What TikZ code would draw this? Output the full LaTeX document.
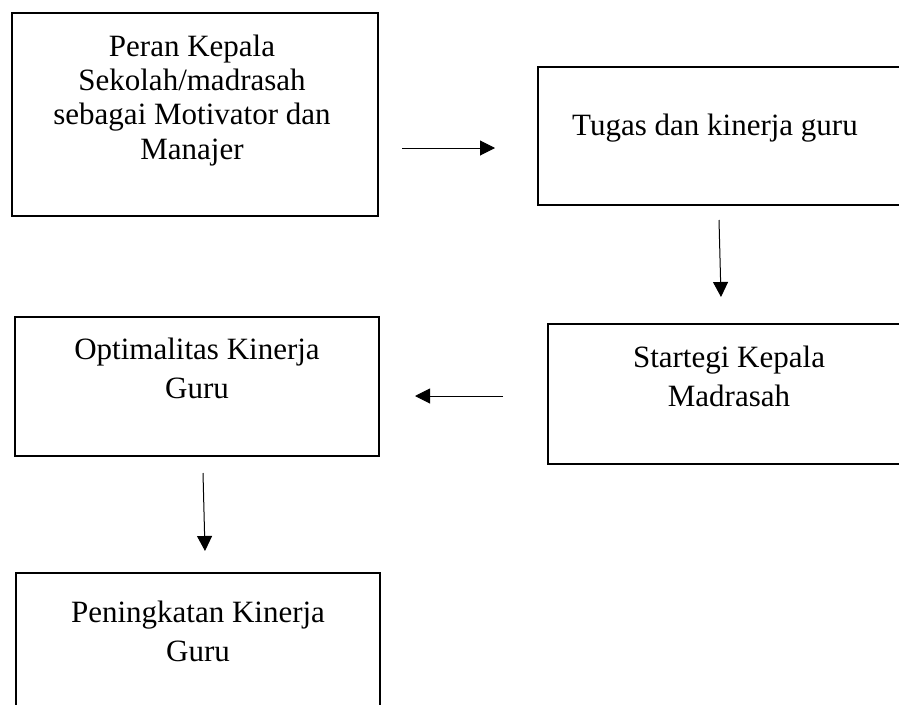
\documentclass[tikz,border=0pt]{standalone}
\usepackage{fontspec}
\setmainfont{Liberation Serif}
\usetikzlibrary{arrows.meta, positioning}
\tikzset{
    % Box styles - plain frames
    kotak/.style={
        rectangle,
        draw=black,
        line width=2.2pt,
        inner sep=0pt
    },
    % text sits on the baseline of its last line
    isi/.style={
        anchor=base,
        align=center,
        inner sep=0pt,
        font=\fontsize{31}{38.5}\selectfont
    },
    % Arrow style - thin line, filled head
    panah/.style={
        -{Triangle[length=15pt, width=15pt]},
        line width=1pt,
        draw=black
    }
}
\begin{document}
\begin{tikzpicture}[x=1pt, y=-1pt]
    \useasboundingbox (0,0) rectangle (899,704);
    \clip (0,0) rectangle (899,704);

    % Peran kepala box
    \node[kotak, minimum width=366pt, minimum height=203pt] (peran) at (195,114.5) {};
    \node[isi, font=\fontsize{31}{34.3}\selectfont] (peranteks) at (192,159)
        {Peran Kepala\\Sekolah/madrasah\\sebagai Motivator dan\\Manajer};

    % Tugas box
    \node[kotak, minimum width=372pt, minimum height=138pt] (tugas) at (724,136) {};
    \node[isi] (tugasteks) at (715,135) {Tugas dan kinerja guru};

    % Strategi box
    \node[kotak, minimum width=362pt, minimum height=140pt] (strategi) at (729,394) {};
    \node[isi] (strategiteks) at (729,406) {Startegi Kepala\\Madrasah};

    % Optimalitas box
    \node[kotak, minimum width=364pt, minimum height=139pt] (optimal) at (197,386.5) {};
    \node[isi] (optimalteks) at (197,398) {Optimalitas Kinerja\\Guru};

    % Peningkatan box
    \node[kotak, minimum width=364pt, minimum height=150pt] (tingkat) at (198,648) {};
    \node[isi] (tingkatteks) at (198,661) {Peningkatan Kinerja\\Guru};

    % Arrow ends
    \coordinate (a1) at (402,148);
    \coordinate (b1) at (495,148);
    \coordinate (a2) at (719,220);
    \coordinate (b2) at (721,297);
    \coordinate (a3) at (503,396);
    \coordinate (b3) at (415,396);
    \coordinate (a4) at (203,473);
    \coordinate (b4) at (205,551);

    % Arrows
    \draw[panah] (a1) -- (b1);
    \draw[panah] (a2) -- (b2);
    \draw[panah] (a3) -- (b3);
    \draw[panah] (a4) -- (b4);
\end{tikzpicture}
\end{document}
